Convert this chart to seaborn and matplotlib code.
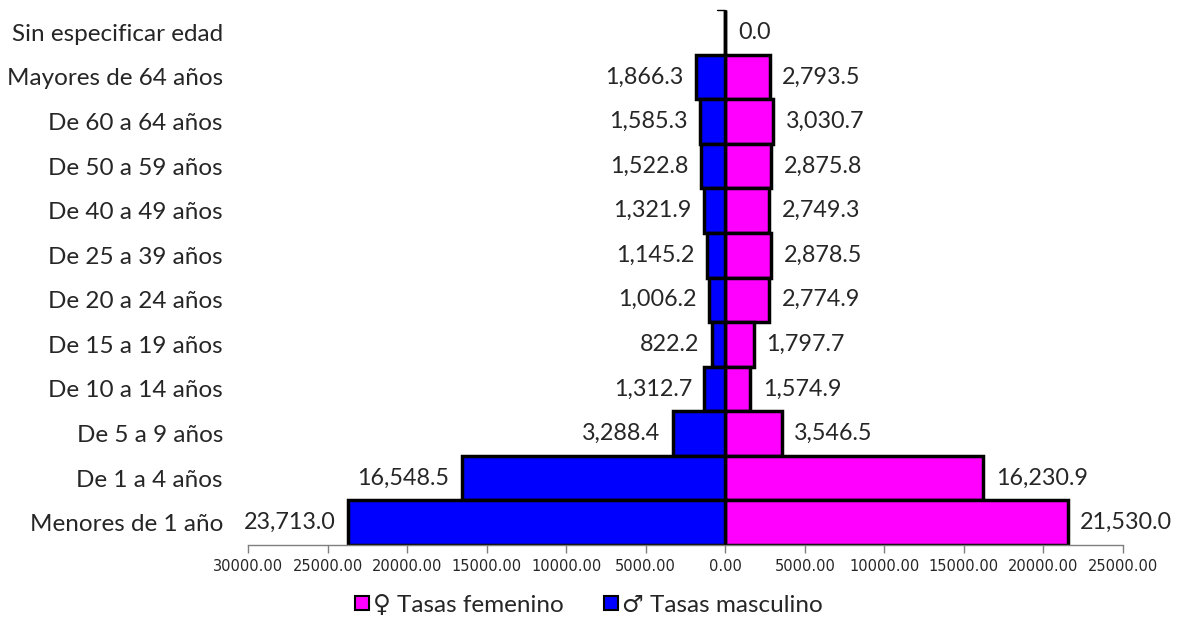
import matplotlib
matplotlib.use("Agg")
import matplotlib.pyplot as plt
import seaborn as sns
import pandas as pd
from matplotlib.ticker import FuncFormatter, MultipleLocator
from matplotlib.lines import Line2D

# categorias de edad, de arriba hacia abajo
edades = ['Sin especificar edad', 'Mayores de 64 años', 'De 60 a 64 años', 'De 50 a 59 años',
          'De 40 a 49 años', 'De 25 a 39 años', 'De 20 a 24 años', 'De 15 a 19 años',
          'De 10 a 14 años', 'De 5 a 9 años', 'De 1 a 4 años', 'Menores de 1 año']
tasas_femenino = [0.0, 2793.5, 3030.7, 2875.8, 2749.3, 2878.5, 2774.9, 1797.7, 1574.9, 3546.5, 16230.9, 21530.0]
tasas_masculino = [0.0, 1866.3, 1585.3, 1522.8, 1321.9, 1145.2, 1006.2, 822.2, 1312.7, 3288.4, 16548.5, 23713.0]

sns.set_style("white")
plt.rcParams['font.family'] = ['Lato', 'DejaVu Sans']

df = pd.DataFrame({'edad': edades, 'fem': tasas_femenino,
                   'masc': [-v for v in tasas_masculino]})

fig = plt.figure(figsize=(11.83, 6.35), dpi=100)
ax = fig.add_axes([248 / 1183, 1 - 545 / 635, 875 / 1183, 535 / 635])

sns.barplot(data=df, x='fem', y='edad', orient='h', color='#FF00FF', saturation=1,
            width=1.0, edgecolor='black', linewidth=2.5, ax=ax)
sns.barplot(data=df, x='masc', y='edad', orient='h', color='#0000FF', saturation=1,
            width=1.0, edgecolor='black', linewidth=2.5, ax=ax)

fem_bars = ax.containers[0]
masc_bars = ax.containers[1]
ax.bar_label(fem_bars, labels=[f'{v:,.1f}' for v in tasas_femenino], padding=9, fontsize=16.8)
ax.bar_label(masc_bars, labels=['' if v == 0 else f'{v:,.1f}' for v in tasas_masculino],
             padding=9, fontsize=16.8)

ax.set_xlim(-30000, 25000)
ax.set_ylim(len(edades) - 0.5, -0.5)
ax.xaxis.set_major_locator(MultipleLocator(5000))
ax.xaxis.set_major_formatter(FuncFormatter(lambda v, p: f'{abs(v):.2f}'))
for lab in ax.get_xticklabels():
    lab.set_family('DejaVu Sans')
ax.tick_params(axis='x', which='major', direction='out', length=6, width=1,
               color='#7f7f7f', labelsize=10.5, pad=4, bottom=True)
ax.tick_params(axis='y', length=0, labelsize=17.5, pad=18)
ax.set_xlabel('')
ax.set_ylabel('')

for s in ['top', 'right', 'left']:
    ax.spines[s].set_visible(False)
ax.spines['bottom'].set_color('#7f7f7f')
ax.spines['bottom'].set_linewidth(1)

# eje vertical en cero
ax.axvline(0, color='black', lw=1, zorder=5)
ax.plot([-500, 0], [-0.5, -0.5], color='black', lw=1, clip_on=False)

handles = [Line2D([], [], marker='s', ls='', markersize=10, markerfacecolor='#FF00FF',
                  markeredgecolor='black', markeredgewidth=1.5),
           Line2D([], [], marker='s', ls='', markersize=10, markerfacecolor='#0000FF',
                  markeredgecolor='black', markeredgewidth=1.5)]
fig.legend(handles, ['♀ Tasas femenino', '♂ Tasas masculino'], loc='center',
           bbox_to_anchor=(0.497, 1 - 605 / 635), ncol=2, frameon=False, fontsize=17.5,
           handletextpad=0.1, columnspacing=1.6, handlelength=0.7)

fig.savefig('out.png', dpi=100)
